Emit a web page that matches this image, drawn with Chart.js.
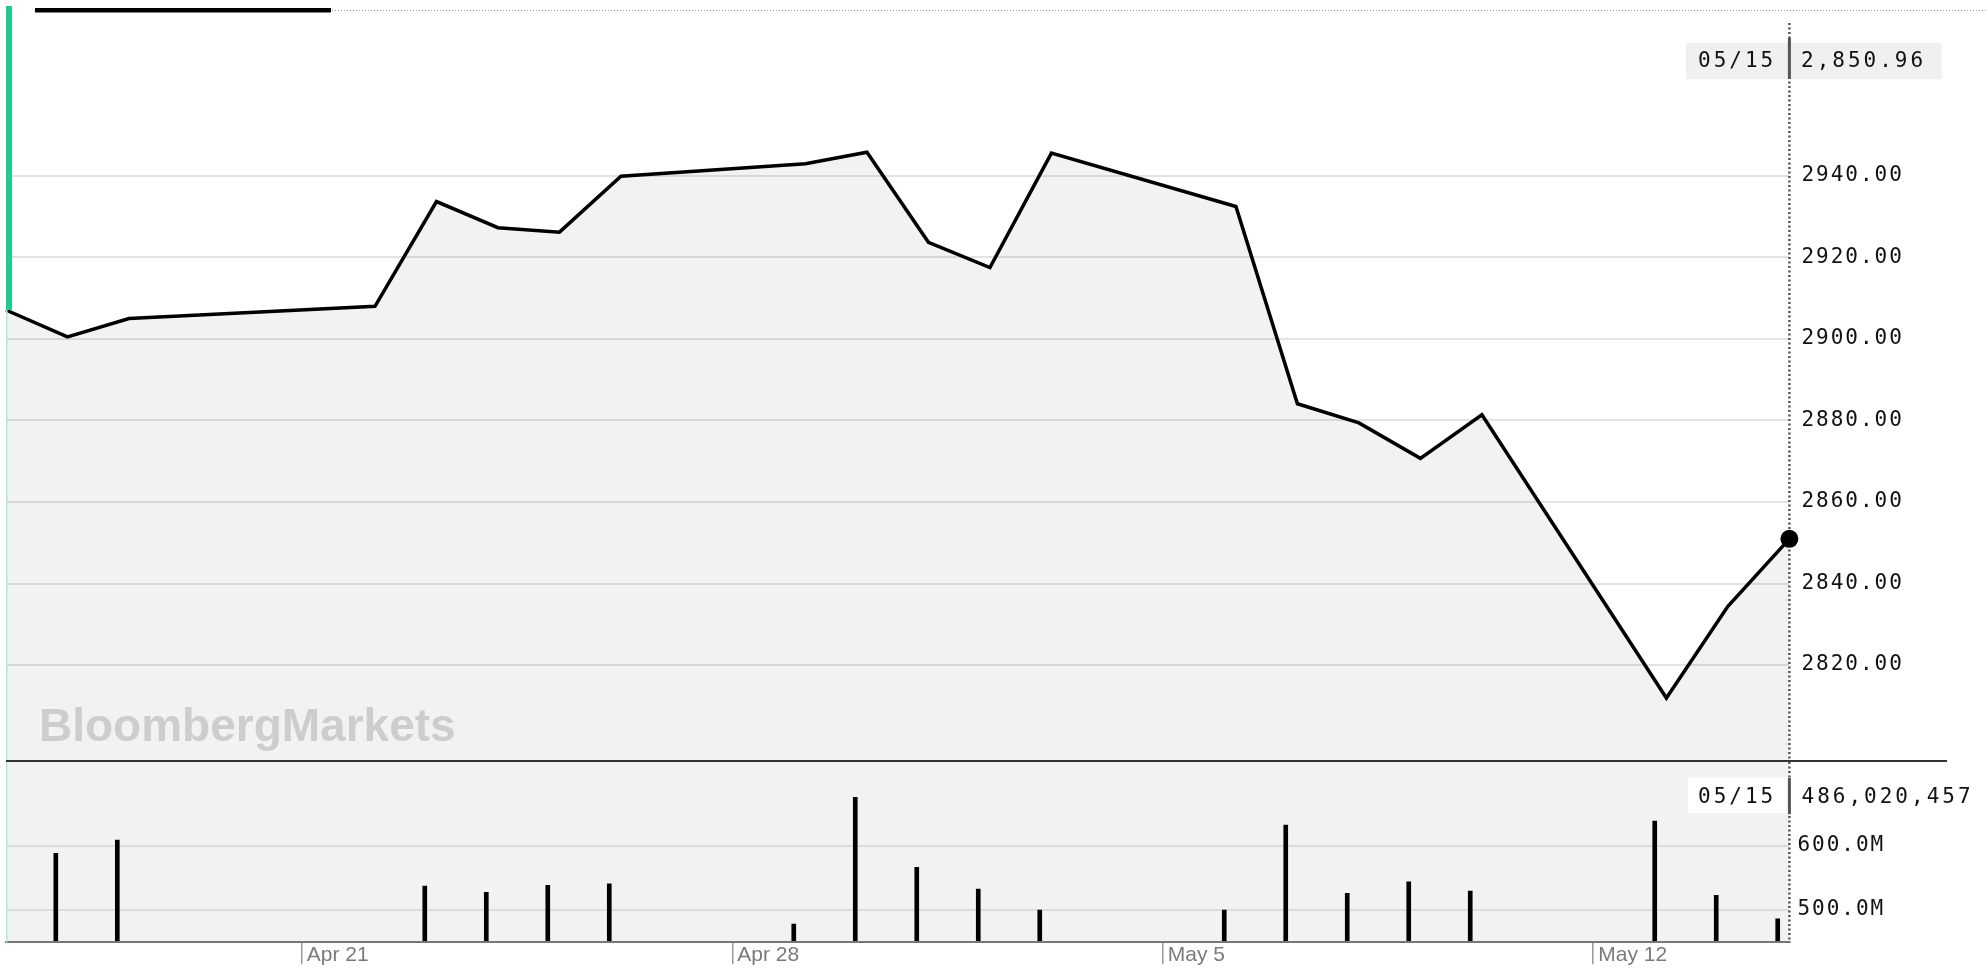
<!DOCTYPE html>
<html><head><meta charset="utf-8">
<script src="https://cdn.jsdelivr.net/npm/chart.js"></script>
<style>
html,body{margin:0;padding:0;background:#fff;width:1986px;height:980px;overflow:hidden;}
#wrap{position:relative;width:1986px;height:980px;}
canvas{position:absolute;left:0;}
#price{top:0;}
#vol{top:760px;}
</style></head><body>
<div id="wrap"><canvas id="price" width="1986" height="760"></canvas><canvas id="vol" width="1986" height="220"></canvas></div>
<script>
// ---- data ----
const dates = ['2019-04-16','2019-04-17','2019-04-18','2019-04-22','2019-04-23','2019-04-24','2019-04-25','2019-04-26',
  '2019-04-29','2019-04-30','2019-05-01','2019-05-02','2019-05-03','2019-05-06','2019-05-07','2019-05-08','2019-05-09',
  '2019-05-10','2019-05-13','2019-05-14','2019-05-15'];
const closePrices = [2907.1, 2900.5, 2905.0, 2908.0, 2933.7, 2927.3, 2926.2, 2939.9, 2943.0, 2945.8, 2923.7,
  2917.5, 2945.6, 2932.5, 2884.1, 2879.4, 2870.7, 2881.4, 2811.9, 2834.4, 2850.96];
// volume in millions (null = not visible in the panel)
const volumesM = [null, 588.6, 609.4, null, 537.5, 527.6, 538.6, 541.0, 478.0, 676.0, 566.7, 532.8, 500.0,
  500.0, 632.8, 526.0, 544.0, 529.7, 639.0, 523.0, 486.020457];
const priceTicks = [2820, 2840, 2860, 2880, 2900, 2920, 2940];
const volumeTicks = [500, 600];
const dateTicks = ['2019-04-21', '2019-04-28', '2019-05-05', '2019-05-12'];
const watermark = 'BloombergMarkets';

// ---- helpers ----
const DAY0 = Date.UTC(2019, 3, 21);
function dayIndex(s){ const [y,m,d] = s.split('-').map(Number); return (Date.UTC(y, m-1, d) - DAY0) / 86400000; }
const MONTHS = ['Jan','Feb','Mar','Apr','May','Jun','Jul','Aug','Sep','Oct','Nov','Dec'];
function dayLabel(v){ const dt = new Date(DAY0 + Math.round(v) * 86400000); return MONTHS[dt.getUTCMonth()] + ' ' + dt.getUTCDate(); }
const lastIdx = dates.length - 1;
const lastDateLabel = dates[lastIdx].slice(5, 7) + '/' + dates[lastIdx].slice(8, 10);
const lastPriceLabel = closePrices[lastIdx].toLocaleString('en-US', {minimumFractionDigits: 2, maximumFractionDigits: 2});
const lastVolLabel = Math.round(volumesM[lastIdx] * 1e6).toLocaleString('en-US');

const W = 1986, PLOT_LEFT = 6, PLOT_RIGHT = 1789.4, AXIS_W = W - PLOT_RIGHT;
const MONO = '"DejaVu Sans Mono", monospace';

function dottedV(ctx, x, y0, y1){
  ctx.save(); ctx.strokeStyle = '#555'; ctx.lineWidth = 2.5; ctx.setLineDash([2, 2.5]);
  ctx.beginPath(); ctx.moveTo(x, y0); ctx.lineTo(x, y1); ctx.stroke(); ctx.restore();
}

const pricePlugin = {
  id: 'priceDeco',
  beforeDraw(chart){ chart.ctx.letterSpacing = '2px'; },
  beforeDatasetsDraw(chart){
    const ctx = chart.ctx, a = chart.chartArea;
    dottedV(ctx, a.right, 23, 760);
  },
  afterDraw(chart){
    const ctx = chart.ctx, a = chart.chartArea, ys = chart.scales.y;
    ctx.save();
    ctx.letterSpacing = '0px';
    // watermark
    ctx.fillStyle = '#cdcdcd'; ctx.font = 'bold 46px "Liberation Sans", Arial, sans-serif';
    ctx.textAlign = 'left'; ctx.textBaseline = 'alphabetic';
    ctx.fillText(watermark, 39, 741);
    // green marker on the left edge
    const firstY = ys.getPixelForValue(closePrices[0]);
    ctx.fillStyle = '#1fcb8f'; ctx.fillRect(6, 6, 6, firstY - 6);
    ctx.fillStyle = '#b3e8d4'; ctx.fillRect(6, firstY, 1.5, 760 - firstY);
    // top range bar + dotted rule
    ctx.fillStyle = '#000'; ctx.fillRect(35, 8, 296, 4.5);
    ctx.strokeStyle = '#9a9a9a'; ctx.lineWidth = 1.2; ctx.setLineDash([1, 2]);
    ctx.beginPath(); ctx.moveTo(332, 10.5); ctx.lineTo(W, 10.5); ctx.stroke();
    ctx.setLineDash([]);
    // last value box
    ctx.fillStyle = '#f0f0f0'; ctx.fillRect(1686, 42.7, 255.7, 36.6);
    ctx.fillStyle = '#555'; ctx.fillRect(a.right - 1.5, 38, 3, 41);
    ctx.font = '21px ' + MONO; ctx.fillStyle = '#111'; ctx.letterSpacing = '3px';
    ctx.fillText(lastDateLabel, 1698, 67);
    ctx.fillText(lastPriceLabel, 1801, 67);
    ctx.restore();
  }
};

new Chart(document.getElementById('price'), {
  type: 'line',
  data: { datasets: [{
    data: dates.map((d, i) => ({x: dayIndex(d), y: closePrices[i]})),
    borderColor: '#000', borderWidth: 3.5, tension: 0, borderJoinStyle: 'miter',
    fill: 'start', backgroundColor: 'rgba(0,0,0,0.05)',
    pointRadius: c => c.dataIndex === lastIdx ? 9 : 0,
    pointBackgroundColor: '#000', pointBorderWidth: 0, pointHoverRadius: 0,
    clip: false
  }]},
  options: {
    responsive: false, devicePixelRatio: 1, animation: false, events: [],
    layout: { padding: {left: PLOT_LEFT, top: 10, right: 0, bottom: 0}, autoPadding: false },
    plugins: { legend: {display: false}, tooltip: {enabled: false} },
    scales: {
      x: { type: 'linear', display: false, min: -5, max: 24 },
      y: { type: 'linear', position: 'right', min: 2796.7, max: 2980.7,
        afterBuildTicks: s => { s.ticks = priceTicks.map(v => ({value: v})); },
        afterFit: s => { s.width = AXIS_W; s.paddingTop = 0; s.paddingBottom = 0; },
        grid: { color: '#e3e3e3', lineWidth: 2, drawTicks: true, tickLength: 12, tickColor: 'rgba(0,0,0,0)' },
        border: { display: false },
        ticks: { padding: 0, color: '#111', font: {family: 'DejaVu Sans Mono', size: 21, lineHeight: 0.1},
          callback: v => Number(v).toFixed(2) }
      }
    }
  },
  plugins: [pricePlugin]
});

const volPlugin = {
  id: 'volDeco',
  beforeDraw(chart){
    const ctx = chart.ctx, a = chart.chartArea;
    ctx.save(); ctx.fillStyle = '#f2f2f2'; ctx.fillRect(a.left, 0, a.right - a.left, a.bottom); ctx.restore();
    ctx.letterSpacing = '2px';
  },
  afterDatasetsDraw(chart){ chart.ctx.letterSpacing = '0px'; },
  afterDraw(chart){
    const ctx = chart.ctx, a = chart.chartArea;
    ctx.save();
    ctx.letterSpacing = '0px';
    // price panel bottom rule
    ctx.fillStyle = '#333'; ctx.fillRect(6, 0, 1941, 2);
    // left thin green line
    ctx.fillStyle = '#b3e8d4'; ctx.fillRect(6, 2, 1.5, a.bottom - 2);
    dottedV(ctx, a.right, 2, a.bottom);
    // last volume box
    ctx.fillStyle = '#ffffff'; ctx.fillRect(1688, 17.3, W - 1688, 36);
    ctx.fillStyle = '#555'; ctx.fillRect(a.right - 1.5, 17.7, 3, 36.5);
    ctx.font = '21px ' + MONO; ctx.fillStyle = '#111'; ctx.letterSpacing = '3px';
    ctx.textAlign = 'left'; ctx.textBaseline = 'alphabetic';
    ctx.fillText(lastDateLabel, 1698, 43.3);
    ctx.fillText(lastVolLabel, 1801.5, 43.3);
    ctx.restore();
  }
};

new Chart(document.getElementById('vol'), {
  type: 'bar',
  data: { datasets: [{
    data: dates.map((d, i) => ({x: dayIndex(d), y: volumesM[i]})),
    backgroundColor: '#000', barThickness: 4, borderWidth: 0
  }]},
  options: {
    responsive: false, devicePixelRatio: 1, animation: false, events: [],
    layout: { padding: {left: PLOT_LEFT, top: 0, right: 0, bottom: 0}, autoPadding: false },
    plugins: { legend: {display: false}, tooltip: {enabled: false} },
    scales: {
      x: { type: 'linear', position: 'bottom', min: -4.81, max: 24.19, offset: false,
        afterBuildTicks: s => { s.ticks = dateTicks.map(d => ({value: dayIndex(d)})); },
        afterFit: s => { s.height = 220 - 182.3; s.paddingLeft = 0; s.paddingRight = 0; },
        grid: { drawOnChartArea: false, drawTicks: true, tickLength: 22, color: '#999', lineWidth: 1.5, offset: false, z: 1 },
        border: { display: true, color: '#777', width: 2, z: 1 },
        ticks: { z: 1, align: 'start', labelOffset: 5, padding: -22, color: '#7a7a7a', autoSkip: false, maxRotation: 0,
          font: {family: 'Liberation Sans', size: 21}, callback: v => dayLabel(v) }
      },
      y: { type: 'linear', position: 'right', min: 449.5, max: 734.4,
        afterBuildTicks: s => { s.ticks = volumeTicks.map(v => ({value: v})); },
        afterFit: s => { s.width = AXIS_W; s.paddingTop = 0; s.paddingBottom = 0; },
        grid: { color: '#dcdcdc', lineWidth: 2, drawTicks: true, tickLength: 8, tickColor: 'rgba(0,0,0,0)' },
        border: { display: false },
        ticks: { padding: 0, color: '#111', font: {family: 'DejaVu Sans Mono', size: 21, lineHeight: 0.1},
          callback: v => Number(v).toFixed(1) + 'M' }
      }
    }
  },
  plugins: [volPlugin]
});
</script>
</body></html>
